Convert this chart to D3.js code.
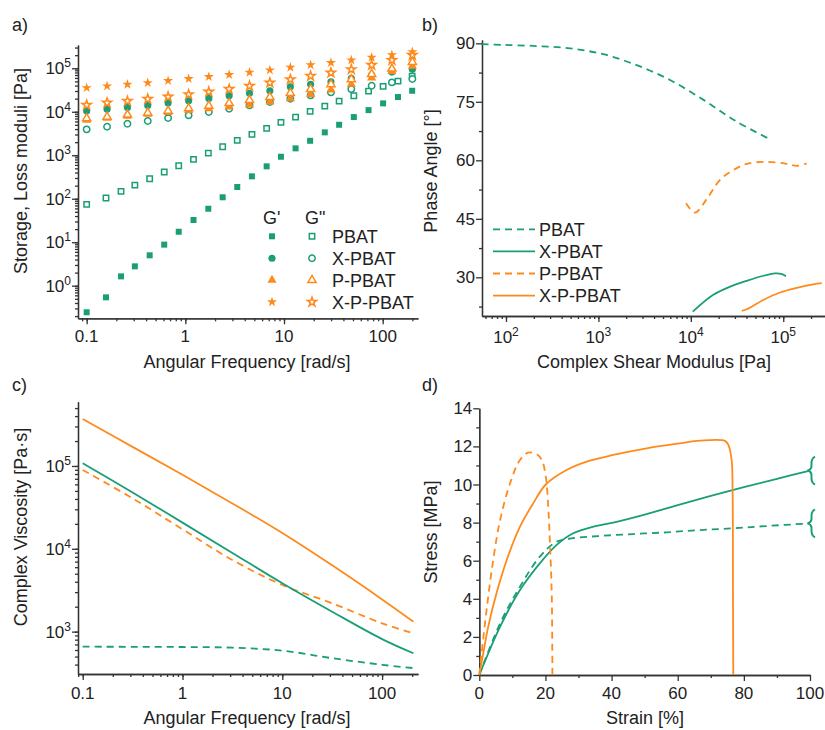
<!DOCTYPE html>
<html>
<head>
<meta charset="utf-8">
<script src="https://cdn.jsdelivr.net/npm/d3@7"></script>
<style>
  body { margin: 0; background: #fff; }
  svg { font-family: "Liberation Sans", Arial, sans-serif; }
</style>
</head>
<body>
<svg width="825" height="730"></svg>
<script>
const GREEN = '#1a9e77';
const ORANGE = '#ff8a1c';
const INK = '#222';
const AXIS = '#333';

// a) frequency sweep, storage (G') and loss (G") moduli [Pa]
const freqPBAT = [0.1, 0.157, 0.223, 0.308, 0.435, 0.611, 0.857, 1.21, 1.71, 2.39, 3.36, 4.73,
  6.67, 9.31, 13.1, 18.4, 25.9, 36.2, 51, 71.9, 101, 143, 199];
const gpPBAT = [0.245, 0.54, 1.64, 2.79, 5.0, 8.8, 17.4, 32.4, 58.9, 108, 186, 327, 556, 924,
  1440, 2150, 3360, 5020, 7550, 10900, 15600, 21800, 30400];
const gppPBAT = [74.3, 104, 148, 206, 288, 411, 574, 805, 1120, 1570, 2200, 3020, 4150, 5700,
  7550, 10200, 13500, 17600, 23300, 29900, 38400, 50800, 66200];

const freqBlend = [0.1, 0.161, 0.259, 0.416, 0.669, 1.08, 1.73, 2.78, 4.47, 7.19, 11.6, 18.6,
  29.9, 48.1, 77.3, 124, 200];
const gpXPBAT = [10400, 11400, 12600, 14000, 15800, 17900, 20300, 23300, 26500, 30400, 37600,
  42700, 49000, 58600, 69800, 81800, 94400];
const gppXPBAT = [3940, 4520, 5300, 6110, 7160, 8260, 9840, 11700, 14000, 16700, 19900, 23800,
  27900, 33200, 39600, 47400, 56500];
const gpPPBAT = [6400, 7100, 7900, 8800, 9700, 10700, 11800, 13000, 14500, 16800, 20000, 25000,
  32000, 43000, 60000, 85000, 112000];
const gppPPBAT = [7050, 7670, 8530, 9480, 10500, 12000, 13700, 15800, 18600, 21800, 26900, 33200,
  42700, 55600, 73600, 97500, 139000];
const gpXPPBAT = [35600, 39000, 42700, 46400, 51600, 57400, 63800, 70900, 80500, 90900, 105000,
  119000, 134000, 154000, 178000, 204000, 239000];
const gppXPPBAT = [14300, 16100, 17600, 19600, 22100, 25100, 28800, 33200, 39000, 46400, 55600,
  66200, 78800, 94400, 119000, 154000, 201000];

// b) van Gurp-Palmen: phase angle [deg] vs complex shear modulus [Pa]
const gsPBAT = [54.6, 93.5, 215, 493, 1130, 2600, 5960, 13700, 31500, 69200];
const dPBAT = [89.8, 89.6, 89.3, 88.7, 87.2, 84.4, 80.6, 75.5, 69.9, 65.6];
const gsXPBAT = [10500, 17500, 26600, 40300, 60900, 81500, 95000, 107000];
const dXPBAT = [21.2, 25.5, 27.6, 29.1, 30.4, 31.0, 30.9, 30.3];
const gsPPBAT = [8870, 11100, 14900, 20700, 28800, 40300, 66300, 109000, 140000, 179000];
const dPPBAT = [49.0, 46.6, 50.1, 55.0, 57.5, 59.1, 59.6, 59.1, 58.6, 59.2];
const gsXPPBAT = [35600, 40300, 60900, 92300, 140000, 212000, 261000];
const dXPPBAT = [21.4, 21.8, 24.2, 26.1, 27.3, 28.2, 28.5];

// c) complex viscosity [Pa s]
const freqVisc = [0.1, 0.316, 1, 3.16, 10, 31.6, 100, 206];
const etaPBAT = [658, 656, 652, 640, 590, 478, 398, 363];
const etaXPBAT = [108000, 47900, 20700, 8910, 3840, 1740, 813, 548];
const etaPPBAT = [89500, 40700, 17200, 7330, 3660, 2200, 1260, 955];
const etaXPPBAT = [369000, 170000, 78200, 35300, 15500, 6310, 2450, 1320];

// d) tensile test, strain [%] / stress [MPa]
const strainPBAT = [0, 6.3, 12.3, 18.3, 23.4, 28.4, 36.5, 46.6, 56.7, 66.7, 76.8, 86.9, 100];
const stressPBAT = [0, 2.71, 4.64, 6.21, 7.0, 7.18, 7.3, 7.4, 7.49, 7.61, 7.7, 7.82, 7.96];
const strainXPBAT = [0, 6.3, 12.3, 18.3, 23.4, 28.4, 34.5, 40.5, 50, 60, 70, 80, 90, 100];
const stressXPBAT = [0, 2.54, 4.46, 5.86, 6.83, 7.44, 7.79, 8.0, 8.42, 8.92, 9.4, 9.86, 10.3, 10.73];
const strainPPBAT = [0, 0.7, 2.2, 4.2, 6.3, 9.3, 12.3, 14.8, 17.3, 18.9, 20.1, 20.9, 21.4, 21.9, 22.1];
const stressPPBAT = [0, 1.14, 3.41, 6.04, 8.14, 10.06, 11.29, 11.67, 11.6, 11.29, 10.41, 8.66, 6.74, 4.29, 0];
const strainXPPBAT = [0, 1.2, 2.7, 5.2, 8.3, 12.3, 16.3, 20.1, 26.4, 32.5, 40.5, 50.6, 60.7, 66.7,
  74.3, 75.3, 76.3, 76.6, 76.7, 76.8];
const stressXPPBAT = [0, 1.14, 2.54, 4.29, 6.04, 7.79, 9.01, 10.0, 10.76, 11.2, 11.55, 11.9, 12.16,
  12.3, 12.29, 12.08, 11.29, 9.54, 4.73, 0];

const sampleNames = ['PBAT', 'X-PBAT', 'P-PBAT', 'X-P-PBAT'];
const sampleColors = [GREEN, GREEN, ORANGE, ORANGE];
const sampleDashed = [true, false, true, false];
const sampleSymbols = [d3.symbolSquare, d3.symbolCircle, d3.symbolTriangle, d3.symbolStar];
const symbolSizes = [36, 40, 36, 32];

const svg = d3.select('svg');

function logMinor(domain) {
  const out = [];
  const lo = Math.floor(Math.log10(domain[0]));
  const hi = Math.ceil(Math.log10(domain[1]));
  for (let k = lo; k <= hi; k++) {
    for (let m = 1; m < 10; m++) {
      const v = m * Math.pow(10, k);
      if (v >= domain[0] && v <= domain[1]) out.push(v);
    }
  }
  return out;
}

function plainLabel(t, d) {
  t.text(d);
}
function powLabel(t, d) {
  t.text('10');
  t.append('tspan').attr('dy', -7).attr('font-size', 12).text(Math.round(Math.log10(d)));
}

function styleAxis(g) {
  g.selectAll('path, line').attr('stroke', AXIS).attr('stroke-width', 1.3);
}

function drawAxes(x, y, xt, yt) {
  const y0 = y.range()[0];
  const x0 = x.range()[0];
  const gx = svg.append('g').attr('transform', `translate(0,${y0})`);
  gx.call(d3.axisBottom(x).tickValues(xt.minor).tickSize(3).tickSizeOuter(0).tickFormat(''));
  gx.call((g) => g.append('g').call(d3.axisBottom(x).tickValues(xt.major).tickSize(6)
      .tickSizeOuter(0).tickFormat('')));
  styleAxis(gx);
  svg.append('g').selectAll('text')
      .data(xt.major)
      .join('text')
      .attr('x', (d) => x(d))
      .attr('y', y0 + xt.dy)
      .attr('text-anchor', 'middle')
      .attr('font-size', 17)
      .attr('fill', INK)
      .each(function (d) { xt.fmt(d3.select(this), d); });

  const gy = svg.append('g').attr('transform', `translate(${x0},0)`);
  gy.call(d3.axisLeft(y).tickValues(yt.minor).tickSize(3).tickSizeOuter(0).tickFormat(''));
  gy.call((g) => g.append('g').call(d3.axisLeft(y).tickValues(yt.major).tickSize(6)
      .tickSizeOuter(0).tickFormat('')));
  styleAxis(gy);
  svg.append('g').selectAll('text')
      .data(yt.major)
      .join('text')
      .attr('x', x0 - 7)
      .attr('y', (d) => y(d) + 6)
      .attr('text-anchor', 'end')
      .attr('font-size', 17)
      .attr('fill', INK)
      .each(function (d) { yt.fmt(d3.select(this), d); });
}

function title(text, x, y, rotate) {
  svg.append('text')
      .attr('transform', rotate ? `translate(${x},${y}) rotate(-90)` : `translate(${x},${y})`)
      .attr('text-anchor', 'middle')
      .attr('font-size', 18)
      .attr('fill', INK)
      .text(text);
}

function panelLabel(text, x, y) {
  svg.append('text').attr('x', x).attr('y', y).attr('font-size', 18).attr('fill', INK).text(text);
}

function drawLine(x, y, xs, ys, color, dashed, curve) {
  svg.append('path')
      .datum(xs.map((d, i) => [d, ys[i]]))
      .attr('fill', 'none')
      .attr('stroke', color)
      .attr('stroke-width', 1.8)
      .attr('stroke-dasharray', dashed ? '7,5' : null)
      .attr('d', d3.line().x((d) => x(d[0])).y((d) => y(d[1])).curve(curve || d3.curveCatmullRom));
}

// ---------- a) ----------
{
  const x = d3.scaleLog().domain([0.0817, 228]).range([78, 418]);
  const y = d3.scaleLog().domain([0.178, 343000]).range([318.3, 45]);
  drawAxes(x, y,
      {major: [0.1, 1, 10, 100], minor: logMinor(x.domain()), fmt: plainLabel, dy: 24},
      {major: [1, 10, 100, 1e3, 1e4, 1e5], minor: logMinor(y.domain()), fmt: powLabel});

  const series = [
    [freqPBAT, gpPBAT, 0, true], [freqPBAT, gppPBAT, 0, false],
    [freqBlend, gppXPBAT, 1, false], [freqBlend, gpXPBAT, 1, true],
    [freqBlend, gpPPBAT, 2, true], [freqBlend, gppPPBAT, 2, false],
    [freqBlend, gppXPPBAT, 3, false], [freqBlend, gpXPPBAT, 3, true],
  ];
  series.forEach(([fs, vs, k, filled]) => {
    const sym = d3.symbol().type(sampleSymbols[k]).size(filled ? symbolSizes[k] : symbolSizes[k] * 0.8);
    svg.append('g').selectAll('path')
        .data(fs.map((f, i) => [f, vs[i]]))
        .join('path')
        .attr('transform', (d) => `translate(${x(d[0])},${y(d[1])})`)
        .attr('d', sym)
        .attr('fill', filled ? sampleColors[k] : '#fff')
        .attr('stroke', sampleColors[k])
        .attr('stroke-width', filled ? 0 : 1.5);
  });

  // legend
  svg.append('text').attr('x', 263).attr('y', 224).attr('font-size', 18).attr('fill', INK).text('G\'');
  svg.append('text').attr('x', 305).attr('y', 224).attr('font-size', 18).attr('fill', INK).text('G"');
  sampleNames.forEach((name, k) => {
    const cy = 236.3 + k * 21.9;
    svg.append('path').attr('transform', `translate(272,${cy})`)
        .attr('d', d3.symbol().type(sampleSymbols[k]).size(symbolSizes[k]))
        .attr('fill', sampleColors[k]);
    svg.append('path').attr('transform', `translate(312,${cy})`)
        .attr('d', d3.symbol().type(sampleSymbols[k]).size(symbolSizes[k] * 0.8))
        .attr('fill', '#fff').attr('stroke', sampleColors[k]).attr('stroke-width', 1.5);
    svg.append('text').attr('x', 332).attr('y', cy + 6.5).attr('font-size', 18)
        .attr('fill', INK).text(name);
  });

  panelLabel('a)', 12, 31);
  title('Storage, Loss moduli [Pa]', 27, 171, true);
  title('Angular Frequency [rad/s]', 247, 368, false);
}

// ---------- b) ----------
{
  const x = d3.scaleLog().domain([55, 283000]).range([482, 825]);
  const y = d3.scaleLinear().domain([20.08, 90.85]).range([316, 40]);
  drawAxes(x, y,
      {major: [100, 1e3, 1e4, 1e5], minor: logMinor(x.domain()), fmt: powLabel, dy: 27},
      {major: [30, 45, 60, 75, 90], minor: [22.5, 37.5, 52.5, 67.5, 82.5], fmt: plainLabel});

  const gs = [gsPBAT, gsXPBAT, gsPPBAT, gsXPPBAT];
  const ds = [dPBAT, dXPBAT, dPPBAT, dXPPBAT];
  sampleNames.forEach((name, k) => {
    drawLine(x, y, gs[k], ds[k], sampleColors[k], sampleDashed[k]);
    const cy = 229.3 + k * 22.1;
    svg.append('line').attr('x1', 493).attr('x2', 535).attr('y1', cy).attr('y2', cy)
        .attr('stroke', sampleColors[k]).attr('stroke-width', 1.8)
        .attr('stroke-dasharray', sampleDashed[k] ? '7,5' : null);
    svg.append('text').attr('x', 539).attr('y', cy + 6.5).attr('font-size', 18)
        .attr('fill', INK).text(name);
  });

  panelLabel('b)', 422, 31);
  title('Phase Angle [°]', 437, 171, true);
  title('Complex Shear Modulus [Pa]', 654, 368, false);
}

// ---------- c) ----------
{
  const x = d3.scaleLog().domain([0.0897, 229]).range([78, 418]);
  const y = d3.scaleLog().domain([308, 597000]).range([674, 401.7]);
  drawAxes(x, y,
      {major: [0.1, 1, 10, 100], minor: logMinor(x.domain()), fmt: plainLabel, dy: 25},
      {major: [1e3, 1e4, 1e5], minor: logMinor(y.domain()), fmt: powLabel});

  const etas = [etaPBAT, etaXPBAT, etaPPBAT, etaXPPBAT];
  [0, 2, 1, 3].forEach((k) => {
    drawLine(x, y, freqVisc, etas[k], sampleColors[k], sampleDashed[k]);
  });

  panelLabel('c)', 12, 391);
  title('Complex Viscosity [Pa·s]', 27, 527, true);
  title('Angular Frequency [rad/s]', 247, 724, false);
}

// ---------- d) ----------
{
  const x = d3.scaleLinear().domain([0, 100]).range([479.3, 810]);
  const y = d3.scaleLinear().domain([0, 14]).range([675, 408.3]);
  drawAxes(x, y,
      {major: d3.range(0, 101, 20), minor: d3.range(10, 100, 20), fmt: plainLabel, dy: 24},
      {major: d3.range(0, 15, 2), minor: d3.range(1, 14, 2), fmt: plainLabel});

  const strains = [strainPBAT, strainXPBAT, strainPPBAT, strainXPPBAT];
  const stresses = [stressPBAT, stressXPBAT, stressPPBAT, stressXPPBAT];
  [0, 1, 2, 3].forEach((k) => {
    drawLine(x, y, strains[k], stresses[k], sampleColors[k], sampleDashed[k]);
  });

  // break marks: PBAT samples did not fail within the range
  [stressXPBAT, stressPBAT].forEach((ys) => {
    const cx = x(100);
    const cy = y(ys[ys.length - 1]);
    const p = d3.path();
    p.moveTo(cx + 5, cy - 14);
    p.quadraticCurveTo(cx + 1, cy - 12, cx + 1.5, cy - 6);
    p.quadraticCurveTo(cx + 2, cy - 1, cx - 2.5, cy);
    p.quadraticCurveTo(cx + 2, cy + 1, cx + 1.5, cy + 6);
    p.quadraticCurveTo(cx + 1, cy + 12, cx + 5, cy + 14);
    svg.append('path').attr('d', p.toString()).attr('fill', 'none')
        .attr('stroke', GREEN).attr('stroke-width', 2);
  });

  panelLabel('d)', 422, 391);
  title('Stress [MPa]', 437, 532, true);
  title('Strain [%]', 645, 724, false);
}
</script>
</body>
</html>
